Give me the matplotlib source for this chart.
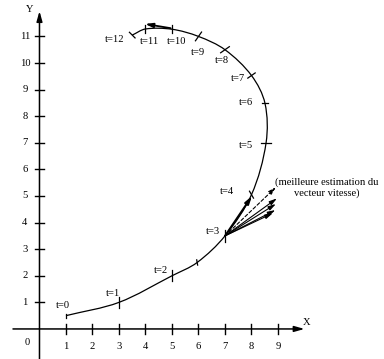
import numpy as np
import matplotlib
matplotlib.use("Agg")
import matplotlib.pyplot as plt
from matplotlib.path import Path
from matplotlib.patches import PathPatch

plt.rcParams['font.family'] = ['Liberation Serif', 'DejaVu Serif']

# ---- data ----
t_values = [0, 1, 2, 2.5, 3, 4, 5, 6, 7, 8, 9, 10, 11, 12]
curve_x = [1.0, 3.0, 5.0, 5.95, 7.0, 8.0, 8.55, 8.51, 8.0, 7.0, 6.0, 5.0, 4.0, 3.5]
curve_y = [0.5, 1.0, 2.0, 2.5, 3.5, 5.05, 7.0, 8.48, 9.53, 10.5, 11.0, 11.27, 11.28, 11.05]
tick_angles = [90, 90, 90, 100, 90, 120, 0, 0, 35, 35, 55, 90, 90, 135]
tick_half = [0.08, 0.2, 0.2, 0.1, 0.22, 0.15, 0.2, 0.12, 0.17, 0.2, 0.2, 0.15, 0.15, 0.15]

labels = ['t=0', 't=1', 't=2', 't=3', 't=4', 't=5', 't=6', 't=7', 't=8',
          't=9', 't=10', 't=11', 't=12']
label_x = [0.87, 2.76, 4.58, 6.56, 7.06, 7.78, 7.78, 7.47, 6.87, 5.99, 5.18, 4.17, 2.85]
label_y = [0.90, 1.34, 2.19, 3.68, 5.16, 6.88, 8.51, 9.40, 10.08, 10.39, 10.80, 10.80, 10.90]

x_ticks = [1, 2, 3, 4, 5, 6, 7, 8, 9]
y_ticks = [1, 2, 3, 4, 5, 6, 7, 8, 9, 10, 11]

origin = (7.0, 3.5)
solid_ends_x = [8.96, 8.92, 8.90, 8.80]
solid_ends_y = [4.91, 4.70, 4.47, 4.35]
dashed_end = (8.92, 5.33)
bold_end = (8.02, 5.0)
top_arrow_start = (4.95, 11.31)
top_arrow_end = (3.98, 11.47)

annotation = "(meilleure estimation du\nvecteur vitesse)"

# ---- figure ----
fig = plt.figure(figsize=(3.84, 3.59), dpi=100)
ax = fig.add_axes([0, 0, 1, 1])
ax.set_xlim(-1.49, 13.0)
ax.set_ylim(-1.13, 12.37)
ax.axis('off')

fs = 7.6

# axes with arrows
ax.annotate('', xy=(10.0, 0), xytext=(-1.0, 0),
            arrowprops=dict(arrowstyle='-|>,head_length=0.6,head_width=0.17',
                            lw=1.1, color='black', shrinkA=0, shrinkB=0))
ax.annotate('', xy=(0, 11.95), xytext=(0, -1.2),
            arrowprops=dict(arrowstyle='-|>,head_length=0.6,head_width=0.17',
                            lw=1.1, color='black', shrinkA=0, shrinkB=0))
ax.text(10.06, 0.23, 'X', fontsize=fs, ha='center', va='center')
ax.text(-0.36, 12.03, 'Y', fontsize=fs, ha='center', va='center')
ax.text(-0.45, -0.5, '0', fontsize=fs, ha='center', va='center')

for xv in x_ticks:
    ax.plot([xv, xv], [-0.18, 0.18], color='black', lw=1.0)
    ax.text(xv, -0.65, str(xv), fontsize=fs, ha='center', va='center')
for yv in y_ticks:
    ax.plot([-0.17, 0.17], [yv, yv], color='black', lw=1.0)
    ax.text(-0.55, yv, str(yv), fontsize=fs, ha='center', va='center')

# smooth curve through the read points (chord-length tangents -> cubic Bezier)
P = np.column_stack([curve_x, curve_y])
n = len(P)
d = np.linalg.norm(np.diff(P, axis=0), axis=1)
tang = np.zeros_like(P)
for i in range(n):
    if i == 0:
        tang[i] = (P[1] - P[0]) / d[0]
    elif i == n - 1:
        tang[i] = (P[-1] - P[-2]) / d[-1]
    else:
        tang[i] = (P[i + 1] - P[i - 1]) / (d[i - 1] + d[i])
verts = [tuple(P[0])]
codes = [Path.MOVETO]
for i in range(n - 1):
    c1 = P[i] + tang[i] * d[i] / 3.0
    c2 = P[i + 1] - tang[i + 1] * d[i] / 3.0
    verts += [tuple(c1), tuple(c2), tuple(P[i + 1])]
    codes += [Path.CURVE4] * 3
ax.add_patch(PathPatch(Path(verts, codes), fill=False, lw=0.9, color='black'))

# curve ticks
for cx, cy, ang, h in zip(curve_x, curve_y, tick_angles, tick_half):
    a = np.deg2rad(ang)
    ax.plot([cx - h * np.cos(a), cx + h * np.cos(a)],
            [cy - h * np.sin(a), cy + h * np.sin(a)], color='black', lw=0.9)

for lab, lx, ly in zip(labels, label_x, label_y):
    ax.text(lx, ly, lab, fontsize=fs, ha='center', va='center')

# velocity vectors
def arrow(start, end, ls='-', lw=0.8, hl=0.45, hw=0.13):
    ax.annotate('', xy=end, xytext=start,
                arrowprops=dict(arrowstyle=f'-|>,head_length={hl},head_width={hw}',
                                lw=lw, ls=ls, color='black',
                                shrinkA=0, shrinkB=0))

for ex, ey in zip(solid_ends_x, solid_ends_y):
    arrow(origin, (ex, ey))
arrow(origin, dashed_end, ls=(0, (3, 2)))
arrow(origin, bold_end, lw=1.4)
arrow(top_arrow_start, top_arrow_end, lw=1.3)

ax.text(10.85, 5.3, annotation, fontsize=fs, ha='center', va='center',
        linespacing=1.2)

fig.savefig('out.png', dpi=100)
